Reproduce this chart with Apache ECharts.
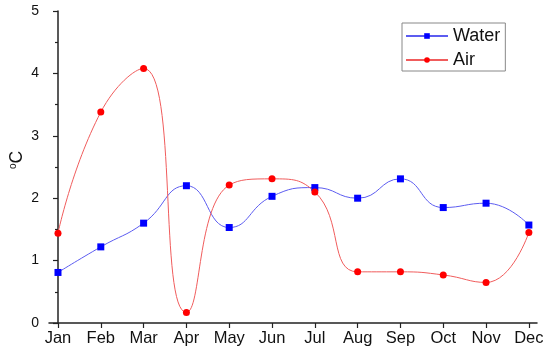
<!DOCTYPE html>
<html><head><meta charset="utf-8">
<script src="https://cdn.jsdelivr.net/npm/echarts@6/dist/echarts.min.js"></script>
<style>html,body{margin:0;padding:0;background:#fff}#c{width:550px;height:355px}</style>
</head><body><div id="c"></div>
<script>
var months = ['Jan','Feb','Mar','Apr','May','Jun','Jul','Aug','Sep','Oct','Nov','Dec'];
var water = [0.81,1.22,1.60,2.20,1.53,2.03,2.17,2.00,2.31,1.85,1.92,1.57];
var air = [1.44,3.38,4.08,0.17,2.21,2.31,2.10,0.82,0.82,0.77,0.65,1.45];
var yTicks = [0,1,2,3,4,5];

function pairs(arr){ return arr.map(function(v,i){ return [i,v]; }); }
var monthIdx = months.map(function(m,i){ return i; });

var chart = echarts.init(document.getElementById('c'), null, {renderer:'canvas'});
chart.setOption({
  animation:false,
  textStyle:{fontFamily:'Liberation Sans, Arial, sans-serif'},
  grid:{left:49,right:13,top:11,bottom:32,containLabel:false,outerBoundsMode:'none'},
  xAxis:{
    type:'value', min:-0.21, max:11.19,
    splitLine:{show:false},
    axisLine:{lineStyle:{color:'#222',width:1.5}},
    axisTick:{customValues:monthIdx,length:5,lineStyle:{color:'#222',width:1.2}},
    axisLabel:{customValues:monthIdx,formatter:function(v){return months[Math.round(v)];},color:'#111',fontSize:16.5,margin:7}
  },
  yAxis:{
    type:'value', min:yTicks[0], max:yTicks[yTicks.length-1], interval:1,
    name:'{s|o}C', nameLocation:'middle', nameRotate:90, nameGap:23, nameMoveOverlap:false,
    nameTextStyle:{fontSize:17.5,color:'#111',padding:[0,0,0,14],rich:{s:{fontSize:10,verticalAlign:'top',color:'#111',padding:[0,0,6,0]}}},
    splitLine:{show:false},
    axisLine:{show:true,lineStyle:{color:'#222',width:1.5}},
    axisTick:{show:true,length:5,lineStyle:{color:'#222',width:1.2}},
    minorTick:{show:true,splitNumber:2,length:3,lineStyle:{color:'#222',width:1.2}},
    axisLabel:{color:'#111',fontSize:14,margin:10}
  },
  legend:{
    orient:'vertical', left:402, top:23,
    borderColor:'#888', borderWidth:1, padding:[4,5,2,3],
    itemWidth:42, itemHeight:7, itemGap:6,
    textStyle:{fontSize:18,color:'#111'},
    data:['Water','Air']
  },
  series:[
    {name:'Water',type:'line',data:pairs(water),smooth:0.5,symbol:'rect',symbolSize:7,
     lineStyle:{color:'#5c5cf0',width:1},itemStyle:{color:'#0000ff'}},
    {name:'Air',type:'line',data:pairs(air),smooth:0.5,symbol:'circle',symbolSize:7,
     lineStyle:{color:'#f05c5c',width:1},itemStyle:{color:'#ff0000'}}
  ]
});
</script></body></html>
